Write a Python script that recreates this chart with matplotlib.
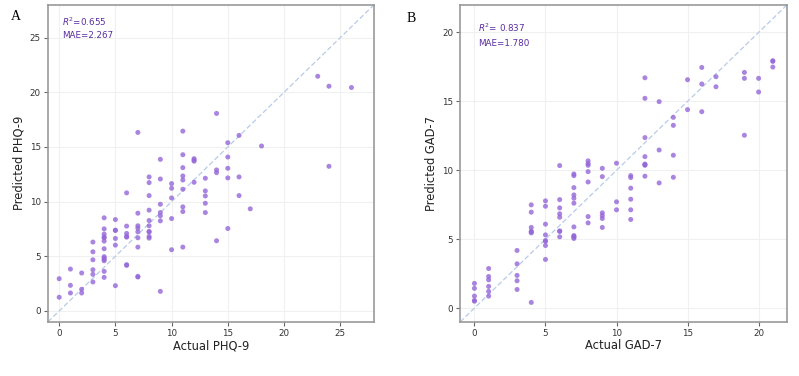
import matplotlib
matplotlib.use("Agg")
import matplotlib.pyplot as plt

# Panel A: PHQ-9
phq_actual = [0, 0,
              1, 1, 1,
              2, 2, 2,
              3, 3, 3, 3, 3, 3,
              4, 4, 4, 4, 4, 4, 4, 4, 4, 4, 4, 4, 4,
              5, 5, 5, 5, 5, 5,
              6, 6, 6, 6, 6, 6, 6,
              7, 7, 7, 7, 7, 7, 7, 7, 7,
              8, 8, 8, 8, 8, 8, 8, 8, 8, 8,
              9, 9, 9, 9, 9, 9, 9,
              10, 10, 10, 10, 10,
              11, 11, 11, 11, 11, 11, 11, 11, 11,
              12, 12, 12, 12,
              13, 13, 13, 13, 13,
              14, 14, 14, 14,
              15, 15, 15, 15, 15,
              16, 16, 16,
              17, 18, 23, 24, 24, 26]
phq_pred = [2.95, 1.25,
            3.83, 2.34, 1.64,
            3.47, 1.98, 1.64,
            6.30, 5.41, 4.68, 3.77, 3.35, 2.65,
            8.52, 7.51, 7.03, 6.75, 6.69, 6.39, 5.69, 4.96, 4.84, 4.71, 4.59, 3.62, 3.07,
            8.36, 7.39, 7.36, 6.63, 6.02, 2.31,
            10.80, 7.76, 7.09, 6.81, 6.75, 4.23, 4.17,
            16.33, 8.94, 7.79, 7.57, 7.24, 6.69, 5.84, 3.16, 3.10,
            12.26, 11.74, 10.55, 9.22, 8.27, 7.79, 7.27, 7.22, 6.81, 6.66,
            13.87, 12.07, 9.76, 9.00, 8.70, 8.24, 1.79,
            11.65, 11.22, 10.34, 8.45, 5.60,
            16.45, 14.29, 13.11, 12.35, 11.98, 11.13, 9.52, 9.09, 5.84,
            13.93, 13.80, 13.70, 11.77,
            12.14, 10.98, 10.52, 9.85, 9.00,
            18.07, 12.90, 12.65, 6.42,
            15.39, 14.08, 13.05, 12.17, 7.54,
            16.06, 12.26, 10.55,
            9.34, 15.09, 21.47, 20.56, 13.23, 20.44]

# Panel B: GAD-7
gad_actual = [0, 0, 0, 0, 0,
              1, 1, 1, 1, 1, 1,
              3, 3, 3, 3, 3,
              4, 4, 4, 4, 4, 4, 4,
              5, 5, 5, 5, 5, 5, 5, 5,
              6, 6, 6, 6, 6, 6, 6, 6,
              7, 7, 7, 7, 7, 7, 7, 7, 7, 7, 7,
              8, 8, 8, 8, 8, 8, 8,
              9, 9, 9, 9, 9, 9,
              10, 10, 10,
              11, 11, 11, 11, 11, 11,
              12, 12, 12, 12, 12, 12, 12, 12,
              13, 13, 13,
              14, 14, 14, 14,
              15, 15,
              16, 16, 16,
              17, 17,
              19, 19, 19,
              20, 20,
              21, 21, 21]
gad_pred = [1.79, 1.43, 0.87, 0.55, 0.50,
            2.87, 2.29, 2.05, 1.57, 1.21, 0.87,
            4.18, 3.21, 2.37, 1.98, 1.35,
            7.49, 6.96, 5.85, 5.58, 5.52, 5.46, 0.41,
            7.78, 7.39, 6.09, 5.31, 4.90, 4.84, 4.54, 3.53,
            10.34, 7.87, 7.27, 6.84, 6.59, 5.60, 5.56, 5.17,
            9.73, 9.61, 8.74, 8.21, 7.97, 7.61, 5.89, 5.26, 5.20, 5.14, 5.05,
            10.68, 10.48, 10.36, 9.90, 9.15, 6.64, 6.18,
            10.14, 9.54, 6.91, 6.71, 6.50, 5.85,
            10.51, 7.71, 7.13,
            9.61, 9.47, 8.70, 7.90, 7.13, 6.43,
            16.71, 15.22, 12.37, 10.99, 10.45, 10.40, 10.36, 9.57,
            14.98, 11.47, 9.08,
            13.84, 13.26, 11.09, 9.49,
            16.57, 14.40,
            17.46, 16.26, 14.25,
            16.79, 16.06,
            17.10, 16.67, 12.54,
            16.67, 15.68,
            17.95, 17.90, 17.49]

panels = [
    dict(x=phq_actual, y=phq_pred, lim=(-1, 28), ticks=[0, 5, 10, 15, 20, 25],
         xlabel="Actual PHQ-9", ylabel="Predicted PHQ-9",
         r2="$R^2$=0.655", mae="MAE=2.267", letter="A", pos=[0.060, 0.144, 0.408, 0.843],
         txt=(0.043, 0.932, 0.897), letter_xy=(0.0135, 0.957)),
    dict(x=gad_actual, y=gad_pred, lim=(-1, 22), ticks=[0, 5, 10, 15, 20],
         xlabel="Actual GAD-7", ylabel="Predicted GAD-7",
         r2="$R^2$= 0.837", mae="MAE=1.780", letter="B", pos=[0.576, 0.144, 0.409, 0.843],
         txt=(0.054, 0.916, 0.869), letter_xy=(0.509, 0.952)),
]

fig = plt.figure(figsize=(7.99, 3.76), dpi=100)
pt_color = "#9467d8"
txt_color = "#5a2ca0"

for p in panels:
    ax = fig.add_axes(p["pos"])
    ax.set_xlim(*p["lim"])
    ax.set_ylim(*p["lim"])
    ax.set_xticks(p["ticks"])
    ax.set_yticks(p["ticks"])
    ax.grid(True, color="#f0f0f0", linewidth=0.8)
    ax.set_axisbelow(True)
    ax.plot(p["lim"], p["lim"], linestyle=(0, (4, 2)), color="#b7cbe8", linewidth=0.9, zorder=1)
    ax.scatter(p["x"], p["y"], s=13, color=pt_color, alpha=0.8, edgecolors="none", zorder=3)
    ax.set_xlabel(p["xlabel"], fontsize=8.3, labelpad=1, color="#222222")
    ax.set_ylabel(p["ylabel"], fontsize=8.3, labelpad=3, color="#222222")
    ax.tick_params(labelsize=6.3, length=3, width=0.8, color="#666666", labelcolor="#333333", pad=2)
    for s in ax.spines.values():
        s.set_color("#999999")
        s.set_linewidth(1.2)
    tx, ty1, ty2 = p["txt"]
    ax.text(tx, ty1, p["r2"], transform=ax.transAxes, ha="left", va="baseline",
            fontsize=6.3, color=txt_color)
    ax.text(tx, ty2, p["mae"], transform=ax.transAxes, ha="left", va="baseline",
            fontsize=6.3, color=txt_color)
    lx, ly = p["letter_xy"]
    fig.text(lx, ly, p["letter"], fontsize=10, family="Liberation Serif",
             ha="left", va="center", color="black")

fig.savefig("out.png", dpi=100, facecolor="white")
